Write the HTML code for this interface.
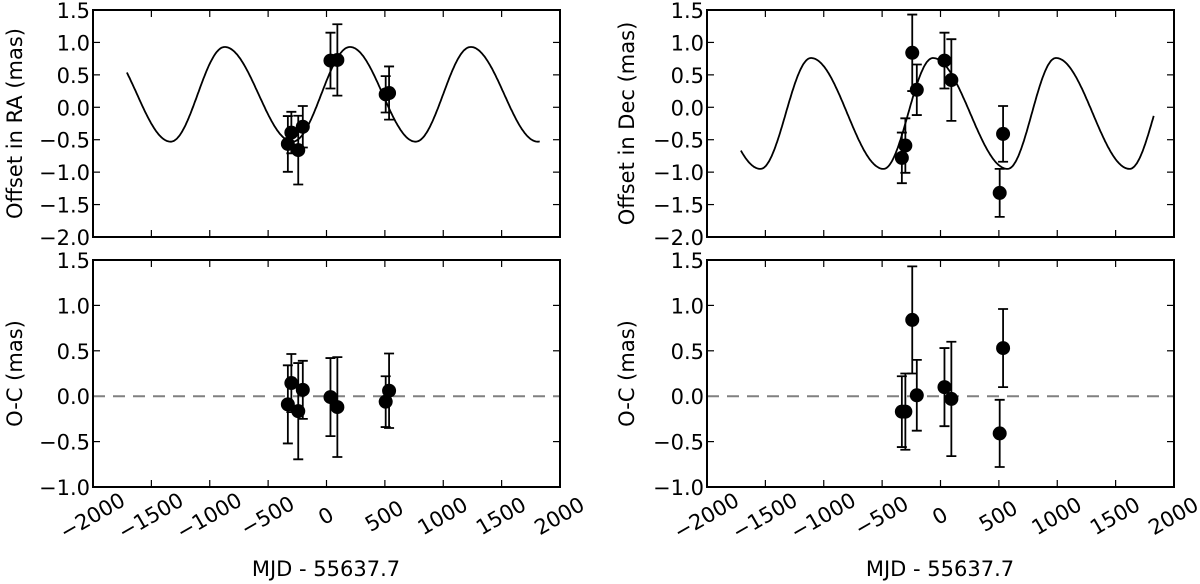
<!DOCTYPE html>
<html><head><meta charset="utf-8"><style>
html,body{margin:0;padding:0;background:#fff;}
svg{display:block;font-family:"DejaVu Sans","Liberation Sans",sans-serif;}
</style></head><body>
<svg id="fig" width="1200" height="584" viewBox="0 0 1200 584" xmlns="http://www.w3.org/2000/svg"></svg>
<script>
const epochs = [-331, -301, -242, -203, 34, 93, 507, 536];
const raOffset = [-0.565, -0.39, -0.66, -0.30, 0.72, 0.73, 0.20, 0.22];
const raErr = [0.43, 0.32, 0.53, 0.32, 0.43, 0.55, 0.28, 0.41];
const decOffset = [-0.78, -0.59, 0.84, 0.27, 0.72, 0.42, -1.32, -0.41];
const decErr = [0.39, 0.42, 0.59, 0.39, 0.43, 0.63, 0.37, 0.43];
const raResid = [-0.09, 0.145, -0.165, 0.07, -0.01, -0.12, -0.06, 0.06];
const decResid = [-0.17, -0.17, 0.84, 0.01, 0.10, -0.03, -0.41, 0.53];
const raModelT = [-1910, -1335, -872, -291, 201, 763, 1235, 1810, 2284];
const raModelV = [0.93, -0.53, 0.93, -0.53, 0.93, -0.53, 0.93, -0.53, 0.93];
const decModelT = [-2172, -1542, -1109, -488, -65, 575, 989, 1620, 2044];
const decModelV = [0.76, -0.95, 0.76, -0.95, 0.76, -0.95, 0.76, -0.95, 0.76];
const modelRange = [-1710, 1826];
const xTicks = [-2000, -1500, -1000, -500, 0, 500, 1000, 1500, 2000];
const xTickLabels = ["\u22122000","\u22121500","\u22121000","\u2212500","0","500","1000","1500","2000"];
const topYTicks = [1.5, 1.0, 0.5, 0.0, -0.5, -1.0, -1.5, -2.0];
const topYLabels = ["1.5","1.0","0.5","0.0","\u22120.5","\u22121.0","\u22121.5","\u22122.0"];
const botYTicks = [1.5, 1.0, 0.5, 0.0, -0.5, -1.0];
const botYLabels = ["1.5","1.0","0.5","0.0","\u22120.5","\u22121.0"];

const NS = "http://www.w3.org/2000/svg";
const svg = document.getElementById("fig");
function mk(tag, attrs, parent){const e=document.createElementNS(NS,tag);for(const k in attrs)e.setAttribute(k,attrs[k]);(parent||svg).appendChild(e);return e;}

function modelAt(T,V,t){
  for(let i=0;i<T.length-1;i++){
    if(t>=T[i]&&t<=T[i+1]){const f=(t-T[i])/(T[i+1]-T[i]);return V[i]+(V[i+1]-V[i])*(1-Math.cos(Math.PI*f))/2;}
  }
  return V[V.length-1];
}

function panel(name, x0, x1, y0, y1, ymin, ymax, yTicks, yLabels, showX, ytitle, titleX, series, errs, model, dashed){
  const g = mk("g",{});
  
  
  const sx = v => x0 + (v - (-2000)) / 4000 * (x1 - x0);
  const sy = v => y0 + (ymax - v) / (ymax - ymin) * (y1 - y0);
  xTicks.forEach((t,i)=>{
    const X=sx(t);
    mk("line",{x1:X,y1:y1,x2:X,y2:y1-7,stroke:"#000","stroke-width":1.2},g);
    mk("line",{x1:X,y1:y0,x2:X,y2:y0+7,stroke:"#000","stroke-width":1.2},g);
    if(showX){
      const tx=mk("text",{x:X,y:517,"font-size":21,"text-anchor":"middle","dominant-baseline":"middle",transform:`rotate(-30 ${X} 517)`},g);
      tx.textContent=xTickLabels[i];
      
      
    }
  });
  yTicks.forEach((t,i)=>{
    const Y=sy(t);
    mk("line",{x1:x0,y1:Y,x2:x0+7,y2:Y,stroke:"#000","stroke-width":1.2},g);
    mk("line",{x1:x1,y1:Y,x2:x1-7,y2:Y,stroke:"#000","stroke-width":1.2},g);
    const tx=mk("text",{x:x0-3,y:Y+8,"font-size":21,"text-anchor":"end"},g);
    tx.textContent=yLabels[i];
    
    
  });
  if(dashed){
    const d=mk("line",{x1:x0,y1:sy(0),x2:x1,y2:sy(0),stroke:"#808080","stroke-width":2,"stroke-dasharray":"12 8"},g);
    
    
  }
  if(model){
    let p="";
    for(let t=modelRange[0];t<=modelRange[1];t+=8){p+=(p?"L":"M")+sx(t).toFixed(1)+","+sy(modelAt(model[0],model[1],t)).toFixed(1);}
    const m=mk("path",{d:p,fill:"none",stroke:"#000","stroke-width":1.8},g);
    
    
  }
  epochs.forEach((t,i)=>{
    const X=sx(t), Yt=sy(series[i]+errs[i]), Yb=sy(series[i]-errs[i]);
    const eb=mk("path",{d:`M${X},${Yt}L${X},${Yb}M${X-5},${Yt}L${X+5},${Yt}M${X-5},${Yb}L${X+5},${Yb}`,stroke:"#000","stroke-width":1.8,fill:"none"},g);
    
    
    const c=mk("circle",{cx:X,cy:sy(series[i]),r:7,fill:"#000"},g);
    
    
  });
  const fr=mk("rect",{x:x0,y:y0,width:x1-x0,height:y1-y0,fill:"none",stroke:"#000","stroke-width":2},g);
  
  
  const cy=(y0+y1)/2;
  const yt=mk("text",{x:titleX,y:cy,"font-size":21,"text-anchor":"middle",transform:`rotate(-90 ${titleX} ${cy})`},g);
  yt.textContent=ytitle;
  
  
}

panel("ra-offset-panel",93,560,10,237,-2,1.5,topYTicks,topYLabels,false,"Offset in RA (mas)",22,raOffset,raErr,[raModelT,raModelV],false);
panel("dec-offset-panel",707,1174,10,237,-2,1.5,topYTicks,topYLabels,false,"Offset in Dec (mas)",634,decOffset,decErr,[decModelT,decModelV],false);
panel("ra-residual-panel",93,560,260,487,-1,1.5,botYTicks,botYLabels,true,"O-C (mas)",22,raResid,raErr,null,true);
panel("dec-residual-panel",707,1174,260,487,-1,1.5,botYTicks,botYLabels,true,"O-C (mas)",634,decResid,decErr,null,true);

const xl1=mk("text",{x:326,y:576,"font-size":21,"text-anchor":"middle"});
xl1.textContent="MJD - 55637.7";


const xl2=mk("text",{x:940,y:576,"font-size":21,"text-anchor":"middle"});
xl2.textContent="MJD - 55637.7";


</script>
</body></html>
